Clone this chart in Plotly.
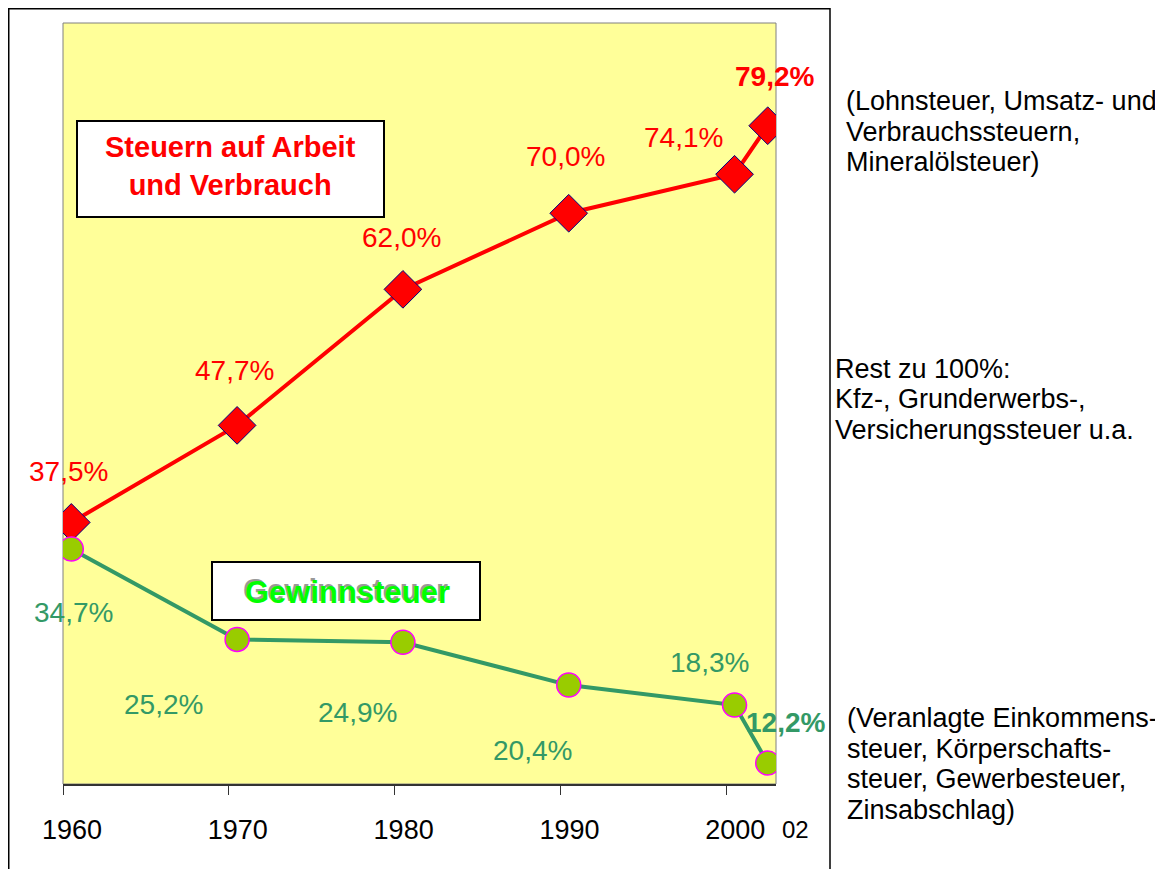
import plotly.graph_objects as go

# Anteil am Steueraufkommen in %
years = [1960, 1970, 1980, 1990, 2000, 2002]
arbeit = [37.5, 47.7, 62.0, 70.0, 74.1, 79.2]
gewinn = [34.7, 25.2, 24.9, 20.4, 18.3, 12.2]
tick_years = [1960, 1970, 1980, 1990, 2000]
tick_labels = ["1960", "1970", "1980", "1990", "2000"]

text_arbeit = ["(Lohnsteuer, Umsatz- und", "Verbrauchssteuern,", "Mineralölsteuer)"]
text_rest = ["Rest zu 100%:", "Kfz-, Grunderwerbs-,", "Versicherungssteuer u.a."]
text_gewinn = ["(Veranlagte Einkommens-", "steuer, Körperschafts-",
               "steuer, Gewerbesteuer,", "Zinsabschlag)"]

# points sit in the middle of the year
x_pos = [y + 0.5 for y in years]

W, H = 1163, 869
OFF = 8  # page body margin
L, R, T, B = 63, 776, 23, 784  # plot area in page pixels
FONT = "Liberation Sans, Arial, sans-serif"
RED = "#FF0000"
GREEN = "#339966"


def px_x(p):
    return (p - L) / (R - L)


def px_y(p):
    return (B - p) / (B - T)


def fmt(v):
    return f"{v:.1f}".replace(".", ",") + "%"


fig = go.Figure()

fig.add_trace(go.Scatter(x=x_pos, y=arbeit, mode="lines+markers",
                         line=dict(color=RED, width=4),
                         marker=dict(symbol="diamond", size=29, color=RED,
                                     line=dict(color="#000080", width=1)),
                         showlegend=False))
fig.add_trace(go.Scatter(x=x_pos, y=gewinn, mode="lines+markers",
                         line=dict(color=GREEN, width=4),
                         marker=dict(symbol="circle", size=24, color="#99CC00",
                                     line=dict(color="#FF00FF", width=1.5)),
                         showlegend=False))

# label offsets in px (dx, dy), dy positive = down
red_off = [(-3, -51), (-3, -55), (-1, -52), (-3, -57), (-51, -37), (7, -49)]
green_off = [(2, 63), (-74, 65), (-45, 70), (-36, 65), (-25, -43), (18, -41)]

for i, (x, v) in enumerate(zip(x_pos, arbeit)):
    last = i == len(years) - 1
    fig.add_annotation(x=x, y=v, text=f"<b>{fmt(v)}</b>" if last else fmt(v),
                       showarrow=False, xanchor="center", yanchor="middle",
                       xshift=red_off[i][0], yshift=-red_off[i][1],
                       font=dict(family=FONT, size=28, color=RED))
for i, (x, v) in enumerate(zip(x_pos, gewinn)):
    last = i == len(years) - 1
    fig.add_annotation(x=x, y=v, text=f"<b>{fmt(v)}</b>" if last else fmt(v),
                       showarrow=False, xanchor="center", yanchor="middle",
                       xshift=green_off[i][0], yshift=-green_off[i][1],
                       font=dict(family=FONT, size=28, color=GREEN))

# series boxes
fig.add_shape(type="rect", xref="paper", yref="paper",
              x0=px_x(77), x1=px_x(384), y0=px_y(217), y1=px_y(121),
              fillcolor="white", line=dict(color="black", width=2), layer="above")
fig.add_annotation(xref="paper", yref="paper", x=px_x(230), y=px_y(166),
                   xanchor="center", yanchor="middle",
                   text="<b>Steuern auf Arbeit<br>und Verbrauch</b>", showarrow=False,
                   font=dict(family=FONT, size=29, color=RED))
fig.add_shape(type="rect", xref="paper", yref="paper",
              x0=px_x(212), x1=px_x(480), y0=px_y(620), y1=px_y(562),
              fillcolor="white", line=dict(color="black", width=2), layer="above")
fig.add_annotation(xref="paper", yref="paper", x=px_x(345), y=px_y(590),
                   xanchor="center", yanchor="middle",
                   text="<b>Gewinnsteuer</b>", showarrow=False,
                   font=dict(family=FONT, size=31, color="#999999"))
fig.add_annotation(xref="paper", yref="paper", x=px_x(347), y=px_y(592),
                   xanchor="center", yanchor="middle",
                   text="<b>Gewinnsteuer</b>", showarrow=False,
                   font=dict(family=FONT, size=31, color="#00FF00"))

# "02" below the last point
fig.add_annotation(xref="paper", yref="paper", x=px_x(795), y=px_y(829),
                   xanchor="center", yanchor="middle",
                   text="02", showarrow=False,
                   font=dict(family=FONT, size=24, color="black"))

# explanatory text on the right
for lines, x0, y0 in [(text_arbeit, 844, 101), (text_rest, 833, 369),
                      (text_gewinn, 845, 718)]:
    for j, s in enumerate(lines):
        fig.add_annotation(xref="paper", yref="paper", x=px_x(x0), y=px_y(y0 + 30.5 * j),
                           xanchor="left", yanchor="middle", text=s, showarrow=False,
                           font=dict(family=FONT, size=27, color="black"))

# outer frame and plot border
fig.add_shape(type="rect", xref="paper", yref="paper",
              x0=px_x(8.75), x1=px_x(830), y0=px_y(900), y1=px_y(8.75),
              line=dict(color="black", width=1.5), layer="below")
fig.add_shape(type="rect", xref="paper", yref="paper", x0=0, x1=1, y0=0, y1=1,
              line=dict(color="#808080", width=1), layer="below")

fig.update_xaxes(range=[1960, 2003], tickvals=tick_years, ticktext=tick_labels,
                 ticks="outside", ticklen=9, tickcolor="#333333",
                 ticklabelshift=9, ticklabelstandoff=12,
                 showline=True, linecolor="#333333", linewidth=1.5,
                 showgrid=False, zeroline=False,
                 tickfont=dict(family=FONT, size=27, color="black"))
fig.update_yaxes(range=[10, 90], showticklabels=False, showgrid=False,
                 zeroline=False, showline=False)

fig.update_layout(width=W, height=H,
                  margin=dict(l=L - OFF, r=W - R + OFF, t=T - OFF, b=H - B + OFF),
                  plot_bgcolor="#FFFF99", paper_bgcolor="white",
                  font=dict(family=FONT))

fig.write_html("out.html")
